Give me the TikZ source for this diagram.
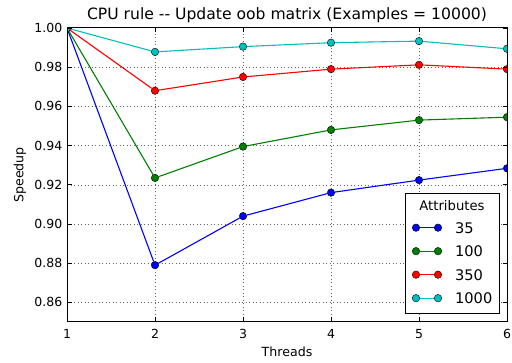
\documentclass[tikz,border=0pt]{standalone}
\usepackage{fontspec}
\setmainfont{DejaVu Sans}
\usetikzlibrary{positioning}
\definecolor{mblue}{rgb}{0,0,1}
\definecolor{mgreen}{rgb}{0,0.5,0}
\definecolor{mred}{rgb}{1,0,0}
\definecolor{mcyan}{rgb}{0,0.75,0.75}
\tikzset{
gridline/.style={black!60, line width=0.5pt, dash pattern=on 1pt off 2.5pt}, % dotted grid of the axes
frame/.style={black, line width=1pt}, % the box round the plot
tickmark/.style={black, line width=0.8pt},
dot/.style={circle, draw=black, line width=0.4pt, inner sep=0pt, minimum size=7.5pt}, % the markers
curve/.style={line width=1.1pt},
ticklabel/.style={inner sep=0pt, font=\fontsize{12.5}{14}\selectfont},
axislabel/.style={inner sep=0pt, font=\fontsize{12.6}{14}\selectfont},
legendbox/.style={draw=black, fill=white, line width=1pt, inner sep=0pt},
}

\begin{document}
\begin{tikzpicture}[x=1pt, y=1pt]
\useasboundingbox (0,0) rectangle (512,363);
\begin{scope}[x=88pt, y=1960pt, xshift=-21pt, yshift=-1625pt]
    % grid
    \foreach \n in {2,...,5}
        \draw[gridline] (\n,0.85) -- (\n,1.0);
    \foreach \v in {0.86,0.88,0.90,0.92,0.94,0.96,0.98}
        \draw[gridline] (1,\v) -- (6,\v);
    % the four series
    \begin{scope}
        \clip (1,0.85) rectangle (6,1.0);
        \foreach \s/\col/\vals in {b/mblue/{1.000,0.879,0.904,0.916,0.9224,0.9284},
                                   g/mgreen/{1.000,0.9235,0.9395,0.948,0.953,0.9545},
                                   r/mred/{1.000,0.968,0.975,0.979,0.9812,0.979},
                                   c/mcyan/{1.000,0.9878,0.9905,0.9925,0.9933,0.9894}}{
            \foreach \v [count=\i] in \vals
                \node[dot, fill=\col] (\s\i) at (\i,\v) {};
            \foreach \i [remember=\i as \j (initially 1)] in {2,...,6}
                \draw[curve, \col] (\s\j) -- (\s\i);
        }
    \end{scope}
    \draw[frame] (1,0.85) rectangle (6,1.0);
    % ticks and their labels
    \foreach \n in {1,...,6}{
        \draw[tickmark] (\n,0.85) -- ++(0pt,4.5pt);
        \draw[tickmark] (\n,1.0) -- ++(0pt,-4.5pt);
        \node[ticklabel, anchor=north] (xlab\n) at ([yshift=-7pt]\n,0.85) {\n};
    }
    \foreach \v [count=\i] in {0.86,0.88,0.90,0.92,0.94,0.96,0.98,1.00}{
        \draw[tickmark] (1,\v) -- ++(4.5pt,0pt);
        \draw[tickmark] (6,\v) -- ++(-4.5pt,0pt);
        \node[ticklabel, anchor=east] (ylab\i) at ([xshift=-4.5pt]1,\v) {\v};
    }
\end{scope}
% titles
\node[inner sep=0pt, font=\fontsize{15.6}{18}\selectfont] (title) at (287,348) {CPU rule -{}- Update oob matrix (Examples = 10000)};
\node[axislabel] (xtitle) at (287,11) {Threads};
\node[axislabel, rotate=90] (ytitle) at (20,188) {Speedup};
% legend
\node[legendbox, minimum width=94pt, minimum height=120pt] (legend) at (452,109) {};
\node[inner sep=0pt, font=\fontsize{13.2}{15}\selectfont] (legtitle) at (452,157.3) {Attributes};
\foreach \s/\col/\lab [count=\i] in {b/mblue/35, g/mgreen/100, r/mred/350, c/mcyan/1000}{
    \pgfmathsetmacro\ky{135.3-(\i-1)*23.5}
    \node[dot, fill=\col] (k\s a) at (416,\ky) {};
    \node[dot, fill=\col] (k\s b) at (438,\ky) {};
    \draw[curve, \col] (k\s a) -- (k\s b);
    \node[inner sep=0pt, anchor=west, right=13pt of k\s b, font=\fontsize{14.6}{17}\selectfont] (l\s) {\lab};
}
\end{tikzpicture}
\end{document}
